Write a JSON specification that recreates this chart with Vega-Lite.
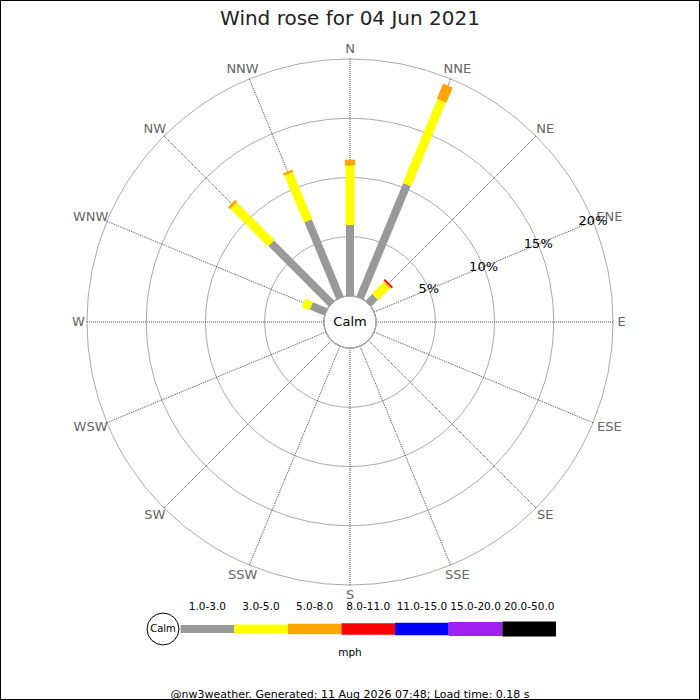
{
  "$schema": "https://vega.github.io/schema/vega-lite/v6.json",
  "width": 700,
  "height": 700,
  "autosize": "none",
  "padding": 0,
  "background": "white",
  "title": {
    "text": "Wind rose for 04 Jun 2021",
    "fontSize": 20,
    "fontWeight": "normal",
    "color": "#222222",
    "anchor": "middle",
    "offset": -29
  },
  "config": {
    "font": "DejaVu Sans",
    "view": {"stroke": "black", "strokeWidth": 2},
    "text": {"font": "DejaVu Sans"}
  },
  "datasets": {
    "dirs": [
      {"dir": "N", "deg": 0}, {"dir": "NNE", "deg": 22.5}, {"dir": "NE", "deg": 45}, {"dir": "ENE", "deg": 67.5},
      {"dir": "E", "deg": 90}, {"dir": "ESE", "deg": 112.5}, {"dir": "SE", "deg": 135}, {"dir": "SSE", "deg": 157.5},
      {"dir": "S", "deg": 180}, {"dir": "SSW", "deg": 202.5}, {"dir": "SW", "deg": 225}, {"dir": "WSW", "deg": 247.5},
      {"dir": "W", "deg": 270}, {"dir": "WNW", "deg": 292.5}, {"dir": "NW", "deg": 315}, {"dir": "NNW", "deg": 337.5}
    ],
    "rings": [
      {"pct": 0},
      {"pct": 5, "label": "5%"},
      {"pct": 10, "label": "10%"},
      {"pct": 15, "label": "15%"},
      {"pct": 20, "label": "20%"}
    ],
    "speeds": [
      {"speed": "1.0-3.0"}, {"speed": "3.0-5.0"}, {"speed": "5.0-8.0"}, {"speed": "8.0-11.0"},
      {"speed": "11.0-15.0"}, {"speed": "15.0-20.0"}, {"speed": "20.0-50.0"}
    ],
    "freq": [
      {"dir": "N", "deg": 0, "speed": "1.0-3.0", "lo": 1, "pct": 6.0},
      {"dir": "N", "deg": 0, "speed": "3.0-5.0", "lo": 3, "pct": 5.0},
      {"dir": "N", "deg": 0, "speed": "5.0-8.0", "lo": 5, "pct": 0.5},
      {"dir": "NNE", "deg": 22.5, "speed": "1.0-3.0", "lo": 1, "pct": 10.35},
      {"dir": "NNE", "deg": 22.5, "speed": "3.0-5.0", "lo": 3, "pct": 7.65},
      {"dir": "NNE", "deg": 22.5, "speed": "5.0-8.0", "lo": 5, "pct": 1.4},
      {"dir": "NE", "deg": 45, "speed": "1.0-3.0", "lo": 1, "pct": 0.8},
      {"dir": "NE", "deg": 45, "speed": "3.0-5.0", "lo": 3, "pct": 1.4},
      {"dir": "NE", "deg": 45, "speed": "5.0-8.0", "lo": 5, "pct": 0.1},
      {"dir": "NE", "deg": 45, "speed": "8.0-11.0", "lo": 8, "pct": 0.15},
      {"dir": "WNW", "deg": 292.5, "speed": "1.0-3.0", "lo": 1, "pct": 1.35},
      {"dir": "WNW", "deg": 292.5, "speed": "3.0-5.0", "lo": 3, "pct": 0.7},
      {"dir": "NW", "deg": 315, "speed": "1.0-3.0", "lo": 1, "pct": 7.2},
      {"dir": "NW", "deg": 315, "speed": "3.0-5.0", "lo": 3, "pct": 4.5},
      {"dir": "NW", "deg": 315, "speed": "5.0-8.0", "lo": 5, "pct": 0.24},
      {"dir": "NNW", "deg": 337.5, "speed": "1.0-3.0", "lo": 1, "pct": 7.05},
      {"dir": "NNW", "deg": 337.5, "speed": "3.0-5.0", "lo": 3, "pct": 4.3},
      {"dir": "NNW", "deg": 337.5, "speed": "5.0-8.0", "lo": 5, "pct": 0.2}
    ],
    "notes": [{"calm": "Calm", "unit": "mph", "footer": "@nw3weather. Generated: 11 Aug 2026 07:48; Load time: 0.18 s"}]
  },
  "layer": [
    {
      "layer": [
        {
          "data": {"name": "rings"},
          "mark": {"type": "arc", "filled": false, "color": "#aaaaaa", "strokeWidth": 1, "theta": 0, "theta2": 6.2832},
          "encoding": {
            "x": {"datum": 0, "type": "quantitative", "scale": {"domain": [-29.536, 29.536], "nice": false, "zero": false}, "axis": null},
            "y": {"datum": 0, "type": "quantitative", "scale": {"domain": [-31.899, 27.173], "nice": false, "zero": false}, "axis": null},
            "radius": {"field": "pct", "type": "quantitative", "stack": null, "scale": {"type": "linear", "domain": [-2.2, 20], "range": [0, 263.07], "nice": false, "zero": false}}
          }
        },
        {
          "data": {"name": "dirs"},
          "transform": [
            {"calculate": "sin(datum.deg * PI / 180) * 2.2", "as": "x0"},
            {"calculate": "cos(datum.deg * PI / 180) * 2.2", "as": "y0"},
            {"calculate": "sin(datum.deg * PI / 180) * 22.2", "as": "x1"},
            {"calculate": "cos(datum.deg * PI / 180) * 22.2", "as": "y1"}
          ],
          "mark": {"type": "rule", "color": "#333333", "strokeWidth": 0.9, "strokeDash": [1, 1]},
          "encoding": {
            "x": {"field": "x0", "type": "quantitative", "axis": null},
            "y": {"field": "y0", "type": "quantitative", "axis": null},
            "x2": {"field": "x1"},
            "y2": {"field": "y1"}
          }
        },
        {
          "data": {"name": "rings"},
          "transform": [{"filter": "datum.pct == 0"}],
          "mark": {"type": "arc", "fill": "white", "stroke": "#aaaaaa", "strokeWidth": 1, "theta": 0, "theta2": 6.2832},
          "encoding": {
            "x": {"datum": 0, "type": "quantitative", "axis": null},
            "y": {"datum": 0, "type": "quantitative", "axis": null},
            "radius": {"field": "pct", "type": "quantitative", "stack": null}
          }
        },
        {
          "data": {"name": "freq"},
          "transform": [
            {"stack": "pct", "groupby": ["dir"], "sort": [{"field": "lo", "order": "ascending"}], "as": ["p0", "p1"]},
            {"calculate": "sin(datum.deg * PI / 180) * (datum.p0 + 2.2)", "as": "x0"},
            {"calculate": "cos(datum.deg * PI / 180) * (datum.p0 + 2.2)", "as": "y0"},
            {"calculate": "sin(datum.deg * PI / 180) * (datum.p1 + 2.2)", "as": "x1"},
            {"calculate": "cos(datum.deg * PI / 180) * (datum.p1 + 2.2)", "as": "y1"}
          ],
          "mark": {"type": "rule", "strokeCap": "butt"},
          "encoding": {
            "x": {"field": "x0", "type": "quantitative", "axis": null},
            "y": {"field": "y0", "type": "quantitative", "axis": null},
            "x2": {"field": "x1"},
            "y2": {"field": "y1"},
            "color": {
              "field": "speed", "type": "nominal", "legend": null,
              "scale": {
                "domain": ["1.0-3.0", "3.0-5.0", "5.0-8.0", "8.0-11.0", "11.0-15.0", "15.0-20.0", "20.0-50.0"],
                "range": ["#999999", "#ffff00", "#ffa500", "#ff0000", "#0000ff", "#a020f0", "#000000"]
              }
            },
            "size": {
              "field": "speed", "type": "ordinal", "legend": null,
              "scale": {
                "domain": ["1.0-3.0", "3.0-5.0", "5.0-8.0", "8.0-11.0", "11.0-15.0", "15.0-20.0", "20.0-50.0"],
                "range": [8, 15, 20, 23, 25, 27, 28.5]
              }
            }
          }
        },
        {
          "data": {"name": "dirs"},
          "transform": [
            {"calculate": "sin(datum.deg * PI / 180) * 22.53", "as": "lx"},
            {"calculate": "cos(datum.deg * PI / 180) * 22.53", "as": "ly"}
          ],
          "mark": {
            "type": "text", "fontSize": 13, "color": "#666666", "align": "center", "baseline": "middle",
            "dx": {"expr": "sin(datum.deg * PI / 180) * length(datum.dir) * 4.6"},
            "dy": {"expr": "-cos(datum.deg * PI / 180) * 6.5"}
          },
          "encoding": {
            "x": {"field": "lx", "type": "quantitative", "axis": null},
            "y": {"field": "ly", "type": "quantitative", "axis": null},
            "text": {"field": "dir"}
          }
        },
        {
          "data": {"name": "rings"},
          "transform": [
            {"filter": "datum.pct > 0"},
            {"calculate": "sin(67.5 * PI / 180) * (datum.pct + 2.2)", "as": "lx"},
            {"calculate": "cos(67.5 * PI / 180) * (datum.pct + 2.2)", "as": "ly"}
          ],
          "mark": {"type": "text", "fontSize": 13, "color": "black", "align": "center", "baseline": "middle"},
          "encoding": {
            "x": {"field": "lx", "type": "quantitative", "axis": null},
            "y": {"field": "ly", "type": "quantitative", "axis": null},
            "text": {"field": "label"}
          }
        },
        {
          "data": {"name": "notes"},
          "mark": {"type": "text", "fontSize": 13, "color": "black", "align": "center", "baseline": "middle"},
          "encoding": {
            "x": {"datum": 0, "type": "quantitative", "axis": null},
            "y": {"datum": 0, "type": "quantitative", "axis": null},
            "text": {"field": "calm"}
          }
        },
        {
          "data": {"name": "notes"},
          "mark": {"type": "point", "shape": "circle", "filled": true, "fill": "white", "stroke": "black", "strokeWidth": 1, "size": 1018, "opacity": 1},
          "encoding": {
            "x": {"datum": -15.78, "type": "quantitative", "axis": null},
            "y": {"datum": -25.907, "type": "quantitative", "axis": null}
          }
        },
        {
          "data": {"name": "notes"},
          "mark": {"type": "text", "fontSize": 10, "color": "black", "align": "center", "baseline": "middle"},
          "encoding": {
            "x": {"datum": -15.78, "type": "quantitative", "axis": null},
            "y": {"datum": -25.907, "type": "quantitative", "axis": null},
            "text": {"field": "calm"}
          }
        },
        {
          "data": {"name": "notes"},
          "mark": {"type": "text", "fontSize": 10.5, "color": "black", "align": "center", "baseline": "middle"},
          "encoding": {
            "x": {"datum": 0, "type": "quantitative", "axis": null},
            "y": {"datum": -27.93, "type": "quantitative", "axis": null},
            "text": {"field": "unit"}
          }
        },
        {
          "data": {"name": "notes"},
          "mark": {"type": "text", "fontSize": 11, "color": "black", "align": "center", "baseline": "middle"},
          "encoding": {
            "x": {"datum": 0, "type": "quantitative", "axis": null},
            "y": {"datum": -31.45, "type": "quantitative", "axis": null},
            "text": {"field": "footer"}
          }
        }
      ]
    },
    {
      "data": {"name": "speeds"},
      "layer": [
        {
          "mark": {"type": "rule", "strokeCap": "butt"},
          "encoding": {
            "x": {
              "field": "speed", "type": "nominal", "bandPosition": 0, "axis": null,
              "scale": {
                "type": "band",
                "domain": ["1.0-3.0", "3.0-5.0", "5.0-8.0", "8.0-11.0", "11.0-15.0", "15.0-20.0", "20.0-50.0"],
                "paddingInner": 0, "paddingOuter": 0, "range": [180.5, 556]
              }
            },
            "x2": {"field": "speed", "bandPosition": 1},
            "y": {"datum": -25.907, "type": "quantitative", "axis": null},
            "color": {"field": "speed", "type": "nominal", "legend": null},
            "size": {"field": "speed", "type": "ordinal", "legend": null}
          }
        },
        {
          "mark": {"type": "text", "fontSize": 10.5, "color": "black", "align": "center", "baseline": "middle"},
          "encoding": {
            "x": {"field": "speed", "type": "nominal", "axis": null},
            "y": {"datum": -24.05, "type": "quantitative", "axis": null},
            "text": {"field": "speed"}
          }
        }
      ]
    }
  ],
  "resolve": {"scale": {"x": "independent"}}
}
